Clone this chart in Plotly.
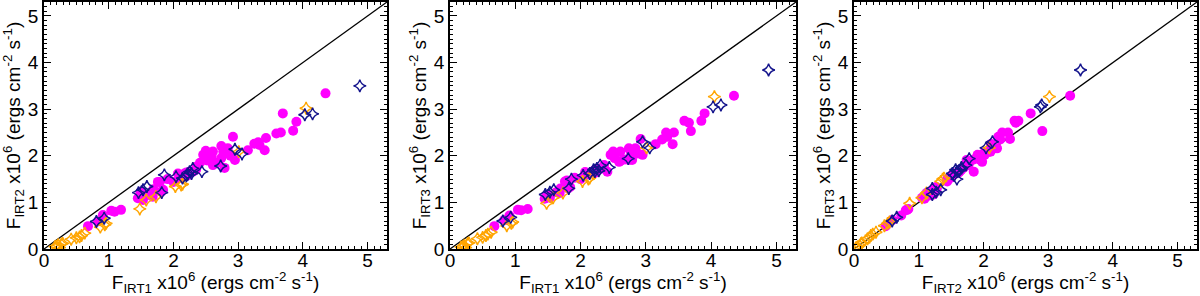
import plotly.graph_objects as go

# ---- data (x10^6 ergs cm^-2 s^-1) ----
mag_irt1 = [4.35, 3.69, 3.90, 3.85, 3.59, 3.66, 2.92, 3.43, 3.41, 3.31, 3.33, 3.25, 3.15,
            2.74, 2.84, 2.61, 2.77, 2.50, 2.46, 2.59, 2.74, 2.95, 2.61, 2.79, 2.41, 2.36,
            2.30, 2.20, 2.07, 2.09, 2.17, 2.25, 1.91, 1.79, 1.81, 1.84, 1.68, 1.63, 1.48,
            1.45, 1.53, 1.50, 1.19, 1.09, 1.04, 0.91, 0.83, 0.68, 2.00, 1.76, 1.69, 2.12,
            2.22, 2.35, 2.52, 2.68, 2.88]
mag_irt2 = [3.34, 2.91, 2.73, 2.54, 2.48, 2.50, 2.41, 2.38, 2.12, 2.29, 2.23, 2.26, 2.12,
            2.21, 2.16, 2.09, 2.09, 2.11, 2.02, 1.98, 1.95, 1.91, 1.80, 1.74, 1.85, 1.77,
            1.66, 1.64, 1.62, 1.52, 1.62, 1.66, 1.50, 1.44, 1.23, 1.27, 1.12, 1.16, 1.16,
            1.09, 1.05, 1.23, 0.84, 0.80, 0.82, 0.73, 0.59, 0.49, 1.44, 1.44, 1.28, 1.55,
            1.58, 1.70, 1.90, 1.85, 2.00]
mag_irt3 = [3.29, 2.53, 2.91, 2.75, 2.75, 2.71, 2.36, 2.50, 2.25, 2.50, 2.41, 2.35, 2.25,
            2.16, 2.16, 2.09, 2.09, 2.09, 2.02, 1.87, 1.91, 2.02, 1.89, 1.91, 1.66, 1.80,
            1.72, 1.68, 1.65, 1.60, 1.64, 1.70, 1.53, 1.47, 1.30, 1.33, 1.20, 1.22, 1.15,
            1.08, 1.10, 1.17, 0.86, 0.83, 0.84, 0.72, 0.62, 0.49, 1.50, 1.45, 1.30, 1.60,
            1.63, 1.75, 1.95, 1.92, 2.05]

org_irt1 = [4.05, 3.01, 2.14, 2.03, 2.12, 1.73, 1.58, 1.48, 0.87, 0.94, 0.96, 0.63, 0.58,
            0.55, 0.50, 0.42, 0.29, 0.27, 0.22, 0.19, 0.17, 0.24]
org_irt2 = [3.02, 2.09, 1.39, 1.34, 1.37, 1.12, 1.05, 0.86, 0.47, 0.52, 0.55, 0.34, 0.29,
            0.26, 0.24, 0.21, 0.12, 0.11, 0.09, 0.06, 0.05, 0.03]
org_irt3 = [3.27, 2.17, 1.52, 1.45, 1.50, 1.20, 1.10, 0.98, 0.50, 0.55, 0.58, 0.36, 0.32,
            0.29, 0.25, 0.22, 0.13, 0.12, 0.08, 0.05, 0.04, 0.03]

blu_irt1 = [4.88, 4.03, 4.15, 2.95, 3.06, 2.73, 2.44, 2.30, 2.25, 2.20, 2.14, 2.04, 1.86,
            1.82, 1.59, 1.53, 1.46, 0.93, 0.81, 2.28, 2.22]
blu_irt2 = [3.50, 2.88, 2.90, 2.14, 2.04, 1.78, 1.66, 1.73, 1.66, 1.57, 1.52, 1.55, 1.59,
            1.21, 1.34, 1.27, 1.21, 0.66, 0.59, 1.62, 1.60]
blu_irt3 = [3.84, 3.05, 3.09, 2.30, 2.17, 1.94, 1.75, 1.80, 1.73, 1.70, 1.62, 1.58, 1.50,
            1.30, 1.27, 1.22, 1.17, 0.68, 0.60, 1.68, 1.66]

diag = [0, 5.3]
tick_vals = [0, 1, 2, 3, 4, 5]
tick_text = ["0", "1", "2", "3", "4", "5"]

groups = [
    (mag_irt1, mag_irt2, mag_irt3, dict(symbol="circle", size=10, color="#FF00FF")),
    (org_irt1, org_irt2, org_irt3, dict(symbol="star-diamond-open", size=9, color="#FFA500",
                                        line=dict(width=1.4, color="#FFA500"))),
    (blu_irt1, blu_irt2, blu_irt3, dict(symbol="star-diamond-open", size=9, color="#14148C",
                                        line=dict(width=1.4, color="#14148C"))),
]

fig = go.Figure()
panel_pairs = [(0, 1), (0, 2), (1, 2)]
for p, (ix, iy) in enumerate(panel_pairs):
    xa = "x" if p == 0 else f"x{p+1}"
    ya = "y" if p == 0 else f"y{p+1}"
    fig.add_trace(go.Scatter(x=diag, y=diag, mode="lines", line=dict(color="black", width=1.3),
                             xaxis=xa, yaxis=ya, showlegend=False, hoverinfo="skip"))
    for g in groups:
        arrs = g[:3]
        fig.add_trace(go.Scatter(x=arrs[ix], y=arrs[iy], mode="markers", marker=g[3],
                                 xaxis=xa, yaxis=ya, showlegend=False, cliponaxis=True))

names = ["IRT1", "IRT2", "IRT3"]
def title(n):
    return f"F<sub>{n}</sub> x10<sup>6</sup> (ergs cm<sup>-2</sup> s<sup>-1</sup>)"

x_domains = [[44/1200, 387/1200], [450/1200, 796/1200], [854/1200, 1197/1200]]
y_domain = [(296-249)/296, (296-2)/296]

font_family = "Liberation Sans, Arial, Helvetica, sans-serif"
common = dict(range=[0, 5.3], showgrid=False, zeroline=False, showline=True, linecolor="black",
              linewidth=1.5, mirror="allticks", ticks="inside", ticklen=7, tickwidth=1.2,
              tickcolor="black", tickvals=tick_vals, ticktext=tick_text, automargin=False,
              tickfont=dict(size=19, color="black", family=font_family),
              minor=dict(dtick=0.1, ticks="inside", ticklen=3.5, tickwidth=1, tickcolor="black"))

layout = dict(width=1200, height=296, margin=dict(l=0, r=0, t=0, b=0),
              plot_bgcolor="white", paper_bgcolor="white",
              font=dict(family=font_family, color="black"))
for p, (ix, iy) in enumerate(panel_pairs):
    sx = "xaxis" if p == 0 else f"xaxis{p+1}"
    sy = "yaxis" if p == 0 else f"yaxis{p+1}"
    xanchor = "y" if p == 0 else f"y{p+1}"
    yanchor = "x" if p == 0 else f"x{p+1}"
    layout[sx] = dict(common, domain=x_domains[p], anchor=xanchor, ticklabelstandoff=-7,
                      title=dict(text=title(names[ix]), font=dict(size=19), standoff=1))
    layout[sy] = dict(common, domain=y_domain, anchor=yanchor,
                      title=dict(text=title(names[iy]), font=dict(size=19), standoff=2))
fig.update_layout(**layout)
fig.write_html("out.html", config={"displayModeBar": False},
               post_script="document.body.style.margin='0';document.body.style.overflow='hidden';")
